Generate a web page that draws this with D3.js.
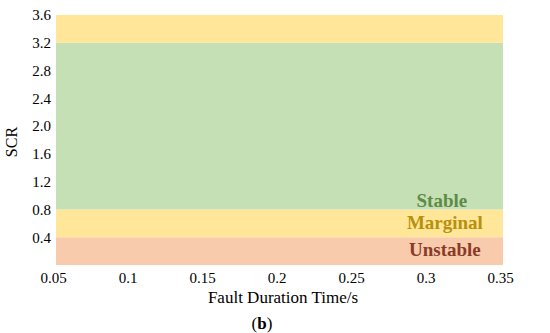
<!DOCTYPE html>
<meta charset="utf-8">
<style>
  body { margin: 0; background: #fff; }
  text { font-family: "Liberation Serif", serif; }
  .tick text { font-size: 15px; }
  .zone text { font-size: 19px; font-weight: bold; text-anchor: middle; }
</style>
<svg width="550" height="333"></svg>
<script src="https://d3js.org/d3.v7.min.js"></script>
<script>

var xTicks = [0.05, 0.1, 0.15, 0.2, 0.25, 0.3, 0.35];
var yTicks = [0.4, 0.8, 1.2, 1.6, 2.0, 2.4, 2.8, 3.2, 3.6];

// SCR bands: [low, high]
var bandLow  = [0, 0.4, 0.8, 3.2];
var bandHigh = [0.4, 0.8, 3.2, 3.6];
var bandFill = ["#f8cbad", "#ffe699", "#c5e0b4", "#ffe699"];

var zoneNames  = ["Stable", "Marginal", "Unstable"];
var zoneColors = ["#5e8b45", "#b8900c", "#8b3a26"];
var zoneY      = [0.83, 0.52, 0.13];  // baseline in SCR units
var zoneX      = 0.311;

var svg = d3.select("svg"),
    margin = {top: 15, right: 47, bottom: 68, left: 56},
    width = +svg.attr("width"),
    height = +svg.attr("height");

var x = d3.scaleLinear()
    .domain([0.05, 0.35])
    .range([margin.left, width - margin.right]);

var y = d3.scaleLinear()
    .domain([0, 3.6])
    .range([height - margin.bottom, margin.top]);

svg.append("g")
  .selectAll("rect")
  .data(bandLow)
  .enter().append("rect")
    .attr("x", x(0.05))
    .attr("width", x(0.35) - x(0.05))
    .attr("y", function(d, i) { return y(bandHigh[i]); })
    .attr("height", function(d, i) { return y(d) - y(bandHigh[i]); })
    .attr("fill", function(d, i) { return bandFill[i]; });

var zone = svg.append("g").attr("class", "zone");
zone.selectAll("text")
  .data(zoneNames)
  .enter().append("text")
    .attr("x", function(d, i) { return x(zoneX) + (i === 0 ? -3 : 0); })
    .attr("y", function(d, i) { return y(zoneY[i]); })
    .attr("fill", function(d, i) { return zoneColors[i]; })
    .text(function(d) { return d; });

var xAxis = d3.axisBottom(x)
    .tickValues(xTicks)
    .tickSize(0)
    .tickPadding(7)
    .tickFormat(function(d) { return String(+d.toFixed(2)); });

svg.append("g")
    .attr("transform", "translate(-3," + (height - margin.bottom) + ")")
    .call(xAxis)
    .call(function(g) { g.select(".domain").remove(); });

var yAxis = d3.axisLeft(y)
    .tickValues(yTicks)
    .tickSize(0)
    .tickPadding(5)
    .tickFormat(d3.format(".1f"));

svg.append("g")
    .attr("transform", "translate(" + margin.left + ",0)")
    .call(yAxis)
    .call(function(g) { g.select(".domain").remove(); });

svg.selectAll(".tick text").attr("fill", "#000").style("font-family", "Liberation Serif, serif");

svg.append("text")
    .attr("x", 283)
    .attr("y", 303)
    .attr("text-anchor", "middle")
    .style("font-size", "17px")
    .text("Fault Duration Time/s");

svg.append("text")
    .attr("transform", "translate(17,142) rotate(-90)")
    .attr("text-anchor", "middle")
    .style("font-size", "16px")
    .text("SCR");

svg.append("text")
    .attr("x", 262)
    .attr("y", 329)
    .attr("text-anchor", "middle")
    .style("font-size", "17px")
    .html("(<tspan font-weight='bold'>b</tspan>)");

</script>
